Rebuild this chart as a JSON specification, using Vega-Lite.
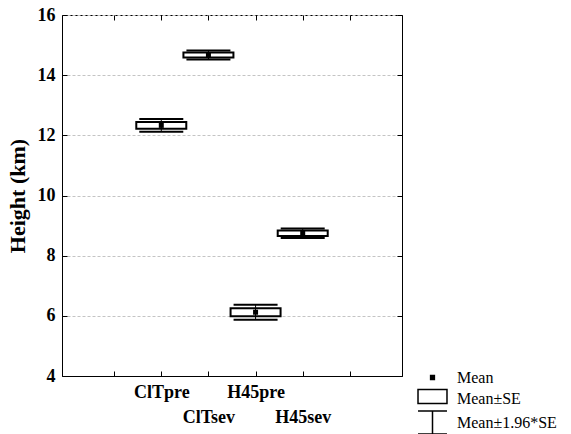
{
  "$schema": "https://vega.github.io/schema/vega-lite/v6.json",
  "width": 340,
  "height": 361,
  "autosize": {"type": "none"},
  "padding": {"left": 62, "top": 15, "right": 169, "bottom": 58},
  "background": "white",
  "config": {
    "view": {"stroke": "black", "strokeWidth": 1},
    "font": "Liberation Serif",
    "axis": {
      "labelFont": "Liberation Serif",
      "labelFontWeight": "bold",
      "labelFontSize": 18,
      "labelColor": "black",
      "domainColor": "black",
      "tickColor": "black",
      "tickSize": -5,
      "titleFont": "Liberation Serif",
      "titleFontWeight": "bold",
      "titleColor": "black",
      "labelOverlap": false,
      "labelFlush": false
    }
  },
  "datasets": {
    "stats": [
      {"group": "ClTpre", "pos": 2, "mean": 12.33, "se_lo": 12.22, "se_hi": 12.44, "ci_lo": 12.12, "ci_hi": 12.54},
      {"group": "ClTsev", "pos": 3, "mean": 14.67, "se_lo": 14.59, "se_hi": 14.75, "ci_lo": 14.52, "ci_hi": 14.82},
      {"group": "H45pre", "pos": 4, "mean": 6.12, "se_lo": 5.99, "se_hi": 6.25, "ci_lo": 5.87, "ci_hi": 6.37},
      {"group": "H45sev", "pos": 5, "mean": 8.745, "se_lo": 8.65, "se_hi": 8.84, "ci_lo": 8.59, "ci_hi": 8.9}
    ],
    "legendItems": [
      {"item": "Mean"},
      {"item": "Mean±SE"},
      {"item": "Mean±1.96*SE"}
    ]
  },
  "layer": [
    {
      "data": {"name": "stats"},
      "mark": {"type": "rule", "color": "black", "strokeWidth": 1},
      "encoding": {
        "x": {
          "field": "pos", "type": "quantitative",
          "scale": {"domain": [0, 7], "nice": false, "zero": false},
          "axis": {
            "orient": "bottom",
            "title": null,
            "values": [1, 2, 3, 4, 5, 6],
            "grid": false,
            "labelFont": "Liberation Serif",
            "labelPadding": 12,
            "labelLineHeight": 25,
            "labelExpr": "datum.value == 2 ? 'ClTpre' : datum.value == 3 ? ['', 'ClTsev'] : datum.value == 4 ? 'H45pre' : datum.value == 5 ? ['', 'H45sev'] : ''"
          }
        },
        "y": {
          "field": "ci_lo", "type": "quantitative",
          "scale": {"domain": [4, 16], "nice": false, "zero": false},
          "axis": {
            "orient": "left",
            "title": "Height (km)",
            "titleFont": "Liberation Serif",
            "titleFontSize": 22,
            "titlePadding": 8,
            "values": [4, 6, 8, 10, 12, 14, 16],
            "grid": true,
            "gridColor": "#c4c4c4",
            "gridDash": [3, 2],
            "gridWidth": 1,
            "labelFont": "Liberation Serif",
            "labelPadding": 12
          }
        },
        "y2": {"field": "ci_hi"}
      }
    },
    {
      "data": {"name": "stats"},
      "mark": {"type": "bar", "width": 50, "fillOpacity": 0, "stroke": "black", "strokeWidth": 2},
      "encoding": {
        "x": {"field": "pos", "type": "quantitative", "axis": null},
        "y": {"field": "se_lo", "type": "quantitative", "axis": null},
        "y2": {"field": "se_hi"}
      }
    },
    {
      "data": {"name": "stats"},
      "mark": {"type": "point", "shape": "M-1,0H1", "size": 1936, "filled": false, "stroke": "black", "strokeWidth": 2, "opacity": 1},
      "encoding": {
        "x": {"field": "pos", "type": "quantitative", "axis": null},
        "y": {"field": "ci_lo", "type": "quantitative", "axis": null}
      }
    },
    {
      "data": {"name": "stats"},
      "mark": {"type": "point", "shape": "M-1,0H1", "size": 1936, "filled": false, "stroke": "black", "strokeWidth": 2, "opacity": 1},
      "encoding": {
        "x": {"field": "pos", "type": "quantitative", "axis": null},
        "y": {"field": "ci_hi", "type": "quantitative", "axis": null}
      }
    },
    {
      "data": {"name": "stats"},
      "mark": {"type": "point", "shape": "square", "size": 25, "filled": true, "color": "black", "opacity": 1},
      "encoding": {
        "x": {
          "field": "pos", "type": "quantitative",
          "axis": {"orient": "top", "title": null, "labels": false, "domain": false, "grid": false, "values": [1, 2, 3, 4, 5, 6]}
        },
        "y": {
          "field": "mean", "type": "quantitative",
          "axis": {"orient": "right", "title": null, "labels": false, "domain": false, "grid": false, "values": [4, 6, 8, 10, 12, 14, 16]}
        }
      }
    },
    {
      "data": {"name": "legendItems"},
      "mark": {"type": "point", "opacity": 0, "strokeWidth": 1.5},
      "encoding": {
        "shape": {
          "field": "item", "type": "nominal",
          "scale": {
            "domain": ["Mean", "Mean±SE", "Mean±1.96*SE"],
            "range": [
              "M-0.18,-0.18H0.18V0.18H-0.18Z",
              "M-1.38,-0.86H1.38V0.48H-1.38Z",
              "M-1.38,-1.1H1.38M0,-1.1V1.1M-1.38,1.1H1.38"
            ]
          },
          "legend": {
            "title": null,
            "orient": "none",
            "legendX": 359,
            "legendY": 351,
            "padding": 0,
            "rowPadding": 0,
            "symbolSize": 441,
            "symbolOpacity": 1,
            "symbolStrokeWidth": 1.5,
            "labelFont": "Liberation Serif",
            "labelFontSize": 16,
            "labelFontWeight": "normal",
            "labelColor": "black",
            "labelOffset": 13,
            "labelLimit": 200
          }
        },
        "fill": {
          "field": "item", "type": "nominal",
          "scale": {
            "domain": ["Mean", "Mean±SE", "Mean±1.96*SE"],
            "range": ["black", "transparent", "transparent"]
          },
          "legend": {
            "title": null,
            "orient": "none",
            "legendX": 359,
            "legendY": 351,
            "padding": 0,
            "rowPadding": 0,
            "symbolSize": 441,
            "symbolOpacity": 1,
            "symbolStrokeWidth": 1.5,
            "labelFont": "Liberation Serif",
            "labelFontSize": 16,
            "labelFontWeight": "normal",
            "labelColor": "black",
            "labelOffset": 13,
            "labelLimit": 200
          }
        },
        "stroke": {
          "field": "item", "type": "nominal",
          "scale": {
            "domain": ["Mean", "Mean±SE", "Mean±1.96*SE"],
            "range": ["black", "black", "black"]
          },
          "legend": {
            "title": null,
            "orient": "none",
            "legendX": 359,
            "legendY": 351,
            "padding": 0,
            "rowPadding": 0,
            "symbolSize": 441,
            "symbolOpacity": 1,
            "symbolStrokeWidth": 1.5,
            "labelFont": "Liberation Serif",
            "labelFontSize": 16,
            "labelFontWeight": "normal",
            "labelColor": "black",
            "labelOffset": 13,
            "labelLimit": 200
          }
        }
      }
    }
  ],
  "resolve": {"axis": {"x": "independent", "y": "independent"}}
}
